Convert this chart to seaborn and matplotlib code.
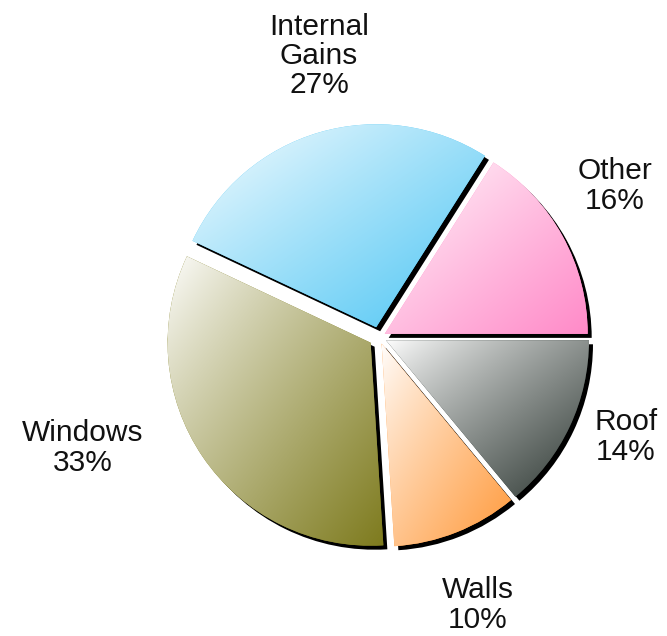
import numpy as np
import matplotlib
matplotlib.use("Agg")
import matplotlib.pyplot as plt
import matplotlib.colors as mcolors
import seaborn as sns

# ---- data ----
categories = ["Other", "Internal\nGains", "Windows", "Walls", "Roof"]
shares = [16, 27, 33, 10, 14]
colors = ["#FF8AC8", "#4FC6F4", "#7E7B1E", "#FF9A3C", "#2E3833"]
explode = [0.032, 0.05, 0.05, 0.035, 0.038]

# ---- layout (pixels, image coords) ----
W, H = 667, 636
center_px = (379, 337)
radius_px = 203
label_pos = [(615, 186), (319, 56), (83, 448), (478, 605), (626, 437)]
shadow_off = (4, -4)

sns.set_theme(style="white")
plt.rcParams["font.family"] = ["Liberation Sans", "DejaVu Sans"]

fig = plt.figure(figsize=(W / 100, H / 100), dpi=100)
ax = fig.add_axes([0, 0, 1, 1])
cx, cy = center_px[0], H - center_px[1]

# matplotlib applies explode in data units -> scale by radius
ex = [e * radius_px for e in explode]
# shadow pie
ax.pie(shares, explode=ex, startangle=0, counterclock=True, radius=radius_px,
       center=(cx + shadow_off[0], cy + shadow_off[1]),
       colors=["black"] * len(shares), wedgeprops=dict(linewidth=0))
for w in ax.patches:
    w.set_zorder(1)

labels = [f"{c}\n{s}%" for c, s in zip(categories, shares)]
wedges, texts = ax.pie(shares, explode=ex, startangle=0, counterclock=True,
                       radius=radius_px, center=(cx, cy), labels=labels,
                       colors=colors, labeldistance=1.3,
                       wedgeprops=dict(linewidth=0),
                       textprops=dict(fontsize=21.5, color="#111111",
                                      ha="center", va="center", linespacing=1.05))

for w, col in zip(wedges, colors):
    w.set_zorder(2)
    wc = w.center
    r = w.r
    th = np.deg2rad(np.linspace(w.theta1, w.theta2, 200))
    xs = np.concatenate([[wc[0]], wc[0] + r * np.cos(th)])
    ys = np.concatenate([[wc[1]], wc[1] + r * np.sin(th)])
    x0, x1, y0, y1 = xs.min(), xs.max(), ys.min(), ys.max()
    nx, ny = 200, 200
    u = np.linspace(0, 1, nx)[None, :]
    v = np.linspace(0, 1, ny)[:, None]  # 0 at top row
    t = np.clip((u + v) / 2.0, 0, 1) ** 0.85
    c = np.array(mcolors.to_rgb(col))
    img = (1 - t)[..., None] * np.array([1.0, 1.0, 1.0]) + t[..., None] * c
    im = ax.imshow(img, extent=(x0, x1, y0, y1), origin="upper",
                   interpolation="bilinear", zorder=3, aspect="auto")
    im.set_clip_path(w)

for t_, pos in zip(texts, label_pos):
    t_.set_position((pos[0], H - pos[1]))

ax.set_xlim(0, W)
ax.set_ylim(0, H)
ax.set_aspect("equal")
ax.axis("off")
fig.savefig("out.png", dpi=100, facecolor="white")
